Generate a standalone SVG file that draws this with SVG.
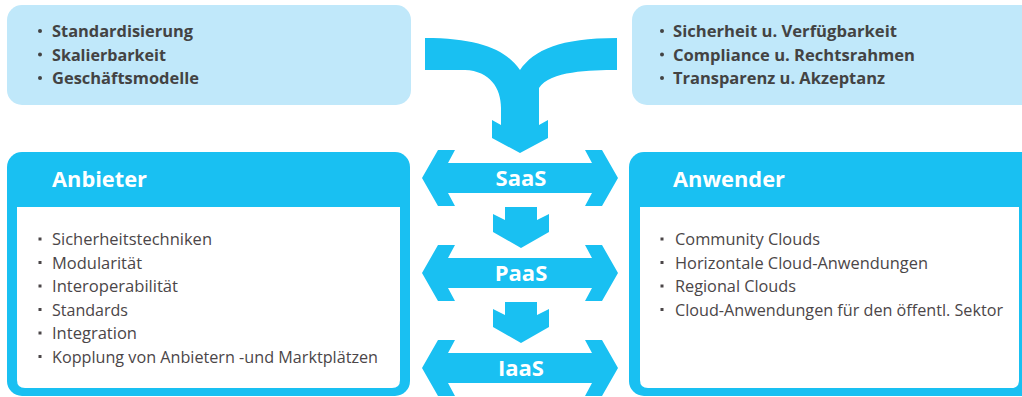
<svg xmlns="http://www.w3.org/2000/svg" width="1022" height="397" viewBox="0 0 1022 397">
  <style>
    .light { fill: #C0E8FA; }
    .blue { fill: #19C0F2; }
    .white { fill: #FFFFFF; }
    .top { font-family: "Open Sans", "Liberation Sans", sans-serif; font-size: 15.5px; font-weight: bold; fill: #434343; }
    .item { font-family: "Open Sans", "Liberation Sans", sans-serif; font-size: 16px; fill: #4B4648; }
    .head { font-family: "Open Sans", "Liberation Sans", sans-serif; font-size: 21px; font-weight: bold; fill: #FFFFFF; }
    .lbl { font-family: "Open Sans", "Liberation Sans", sans-serif; font-size: 22px; font-weight: bold; fill: #FFFFFF; text-anchor: middle; }
    .dot { fill: #434343; }
    .sq { fill: #4B4648; }
  </style>
  <defs>
    <polygon id="dbl" points="-98,0 -82,-28 -65,-28 -72,-15 72,-15 65,-28 82,-28 98,0 82,28 65,28 72,15 -72,15 -65,28 -82,28"/>
    <polygon id="down" points="-16,0 16,0 16,13 28,7 28,25 0,41 -28,25 -28,7 -16,13"/>
  </defs>

  <g id="top-left">
    <rect class="light" x="7" y="5" width="404" height="100" rx="15"/>
    <circle class="dot" cx="40" cy="31" r="2"/>
    <circle class="dot" cx="40" cy="54.5" r="2"/>
    <circle class="dot" cx="40" cy="78" r="2"/>
    <text class="top" x="52" y="37" textLength="141" lengthAdjust="spacingAndGlyphs">Standardisierung</text>
    <text class="top" x="52" y="60.5" textLength="114" lengthAdjust="spacingAndGlyphs">Skalierbarkeit</text>
    <text class="top" x="52" y="84" textLength="147" lengthAdjust="spacingAndGlyphs">Geschäftsmodelle</text>
  </g>

  <g id="top-right">
    <rect class="light" x="632" y="5" width="420" height="100" rx="15"/>
    <circle class="dot" cx="662" cy="31" r="2"/>
    <circle class="dot" cx="662" cy="54.5" r="2"/>
    <circle class="dot" cx="662" cy="78" r="2"/>
    <text class="top" x="673" y="37" textLength="224" lengthAdjust="spacingAndGlyphs">Sicherheit u. Verfügbarkeit</text>
    <text class="top" x="673" y="60.5" textLength="242" lengthAdjust="spacingAndGlyphs">Compliance u. Rechtsrahmen</text>
    <text class="top" x="673" y="84" textLength="212" lengthAdjust="spacingAndGlyphs">Transparenz u. Akzeptanz</text>
  </g>

  <g id="anbieter">
    <rect class="blue" x="7" y="152" width="403" height="244" rx="15"/>
    <path class="white" d="M17,207 H400 V380 Q400,388 392,388 H25 Q17,388 17,380 Z"/>
    <text class="head" x="52" y="187" textLength="95" lengthAdjust="spacingAndGlyphs">Anbieter</text>
    <rect class="sq" x="38.5" y="237.5" width="3" height="3"/>
    <rect class="sq" x="38.5" y="261" width="3" height="3"/>
    <rect class="sq" x="38.5" y="284.5" width="3" height="3"/>
    <rect class="sq" x="38.5" y="308" width="3" height="3"/>
    <rect class="sq" x="38.5" y="331.5" width="3" height="3"/>
    <rect class="sq" x="38.5" y="355" width="3" height="3"/>
    <text class="item" x="52" y="245" textLength="160" lengthAdjust="spacingAndGlyphs">Sicherheitstechniken</text>
    <text class="item" x="52" y="268.5" textLength="90" lengthAdjust="spacingAndGlyphs">Modularität</text>
    <text class="item" x="52" y="292" textLength="126" lengthAdjust="spacingAndGlyphs">Interoperabilität</text>
    <text class="item" x="52" y="315.5" textLength="76" lengthAdjust="spacingAndGlyphs">Standards</text>
    <text class="item" x="52" y="339" textLength="85" lengthAdjust="spacingAndGlyphs">Integration</text>
    <text class="item" x="52" y="362.5" textLength="326" lengthAdjust="spacingAndGlyphs">Kopplung von Anbietern -und Marktplätzen</text>
  </g>

  <g id="anwender">
    <rect class="blue" x="629" y="152" width="420" height="244" rx="15"/>
    <path class="white" d="M640,207 H1019 V380 Q1019,388 1011,388 H648 Q640,388 640,380 Z"/>
    <text class="head" x="673" y="187" textLength="112" lengthAdjust="spacingAndGlyphs">Anwender</text>
    <rect class="sq" x="660.5" y="237.5" width="3" height="3"/>
    <rect class="sq" x="660.5" y="261" width="3" height="3"/>
    <rect class="sq" x="660.5" y="284.5" width="3" height="3"/>
    <rect class="sq" x="660.5" y="308" width="3" height="3"/>
    <text class="item" x="675" y="245" textLength="145" lengthAdjust="spacingAndGlyphs">Community Clouds</text>
    <text class="item" x="675" y="268.5" textLength="253" lengthAdjust="spacingAndGlyphs">Horizontale Cloud-Anwendungen</text>
    <text class="item" x="675" y="292" textLength="121" lengthAdjust="spacingAndGlyphs">Regional Clouds</text>
    <text class="item" x="675" y="315.5" textLength="328" lengthAdjust="spacingAndGlyphs">Cloud-Anwendungen für den öffentl. Sektor</text>
  </g>

  <g id="connectors">
    <path id="merge" class="blue" d="M425,38 C480,38 506,50 520,70 C534,50 560,38 617,38 L617,70 C590,70 550,71 539,88 L539,125 L548,120 L548,138 L520,153 L492,138 L492,120 L501,125 L501,108 C501,88 490,71 465,70 L425,70 Z"/>
    <g id="saas">
      <use href="#dbl" class="blue" x="520" y="178"/>
      <text class="lbl" x="521" y="186">SaaS</text>
    </g>
    <use id="down1" href="#down" class="blue" x="521" y="207"/>
    <g id="paas">
      <use href="#dbl" class="blue" x="520" y="273"/>
      <text class="lbl" x="521" y="281">PaaS</text>
    </g>
    <use id="down2" href="#down" class="blue" x="521" y="302"/>
    <g id="iaas">
      <use href="#dbl" class="blue" x="520" y="368"/>
      <text class="lbl" x="521" y="376">IaaS</text>
    </g>
  </g>
</svg>
